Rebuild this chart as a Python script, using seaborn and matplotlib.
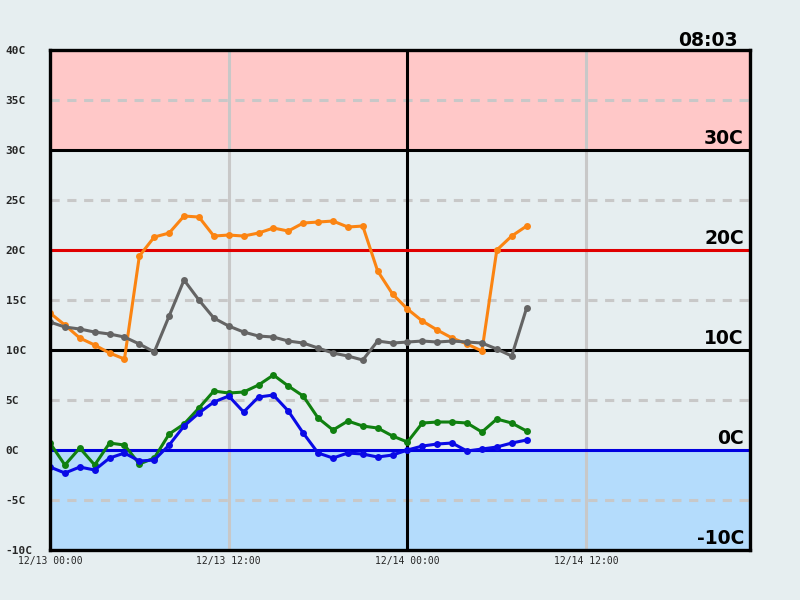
import matplotlib
matplotlib.use('Agg')
import matplotlib.pyplot as plt
import seaborn as sns
import pandas as pd

# hourly readings from 12/13 00:00
hours = list(range(33))
orange = [13.7, 12.5, 11.2, 10.5, 9.7, 9.1, 19.4, 21.3, 21.7, 23.4, 23.3, 21.4, 21.5,
          21.4, 21.7, 22.2, 21.9, 22.7, 22.8, 22.9, 22.3, 22.4, 17.9, 15.6, 14.1,
          12.9, 12.0, 11.2, 10.6, 9.9, 20.0, 21.4, 22.4]
gray = [12.8, 12.3, 12.1, 11.8, 11.6, 11.3, 10.6, 9.8, 13.4, 17.0, 15.0, 13.2, 12.4,
        11.8, 11.4, 11.3, 10.9, 10.7, 10.2, 9.7, 9.4, 9.0, 10.9, 10.7, 10.8,
        10.9, 10.8, 10.9, 10.8, 10.7, 10.1, 9.4, 14.2]
green = [0.7, -1.5, 0.2, -1.5, 0.7, 0.5, -1.4, -0.8, 1.6, 2.6, 4.2, 5.9, 5.7,
         5.8, 6.5, 7.5, 6.4, 5.4, 3.2, 2.0, 2.9, 2.4, 2.2, 1.4, 0.8,
         2.7, 2.8, 2.8, 2.7, 1.8, 3.1, 2.7, 1.9]
blue = [-1.7, -2.3, -1.7, -2.0, -0.8, -0.3, -1.1, -1.0, 0.5, 2.4, 3.7, 4.8, 5.4,
        3.8, 5.3, 5.5, 3.9, 1.7, -0.3, -0.8, -0.3, -0.4, -0.7, -0.5, 0.0,
        0.4, 0.6, 0.7, -0.1, 0.1, 0.3, 0.7, 1.0]

ytick_vals = [-10, -5, 0, 5, 10, 15, 20, 25, 30, 35, 40]
ytick_labels = [f'{v}C' for v in ytick_vals]
xtick_vals = [0, 12, 24, 36]
xtick_labels = ['12/13 00:00', '12/13 12:00', '12/14 00:00', '12/14 12:00']
band_labels = [30, 20, 10, 0, -10]
clock = '08:03'

bg = '#e6eef0'
sns.set_style('white', {'axes.facecolor': bg, 'figure.facecolor': bg})

fig = plt.figure(figsize=(8, 6), dpi=100)
ax = fig.add_axes([0.0625, 0.0833, 0.875, 0.8333])

# zones
ax.axhspan(30, 40, color='#ffc8c8', zorder=0)
ax.axhspan(-10, 0, color='#b4dcfc', zorder=0)
for v in [35, 25, 15, 5, -5]:
    ax.axhline(v, color='#c8c8c8', lw=2.2, ls=(0, (3, 2.5)), zorder=1)
ax.axvline(12, color='#c8c8c8', lw=2.2, zorder=1)
ax.axvline(36, color='#c8c8c8', lw=2.2, zorder=1)
ax.axvline(24, color='black', lw=2.2, zorder=1)
ax.axhline(30, color='black', lw=2.2, zorder=1)
ax.axhline(10, color='black', lw=2.2, zorder=1)
ax.axhline(20, color='#e00000', lw=2.2, zorder=1)
ax.axhline(0, color='#0000e0', lw=2.2, zorder=1)

series = [(orange, '#fb8412'), (gray, '#646464'), (green, '#108010'), (blue, '#0a0ae6')]
for vals, col in series:
    df = pd.DataFrame({'h': hours, 't': vals})
    sns.lineplot(data=df, x='h', y='t', ax=ax, color=col, lw=2.2, marker='o',
                 markersize=5, markeredgewidth=0, zorder=3)

for v in band_labels:
    ax.text(46.6, v + 0.25, f'{v}C', ha='right', va='bottom', fontsize=13.5,
            fontweight='bold', color='black', zorder=4)
ax.text(46.2, 40.0, clock, ha='right', va='bottom', fontsize=13.5,
        fontweight='bold', color='black', clip_on=False)

ax.set_xlim(0, 47)
ax.set_ylim(-10, 40)
ax.set_xticks(xtick_vals)
ax.set_xticklabels(xtick_labels, family='DejaVu Sans Mono', fontsize=7)
ax.set_yticks(ytick_vals)
ax.set_yticklabels(ytick_labels, family='DejaVu Sans Mono', fontsize=8, fontweight='bold')
for lab in ax.get_yticklabels():
    lab.set_horizontalalignment('left')
ax.tick_params(axis='y', length=0, pad=32)
ax.tick_params(axis='x', length=0, pad=4)
ax.set_xlabel('')
ax.set_ylabel('')
for s in ax.spines.values():
    s.set_color('black')
    s.set_linewidth(2.4)
    s.set_zorder(5)

fig.savefig('out.png', dpi=100, facecolor=bg)
